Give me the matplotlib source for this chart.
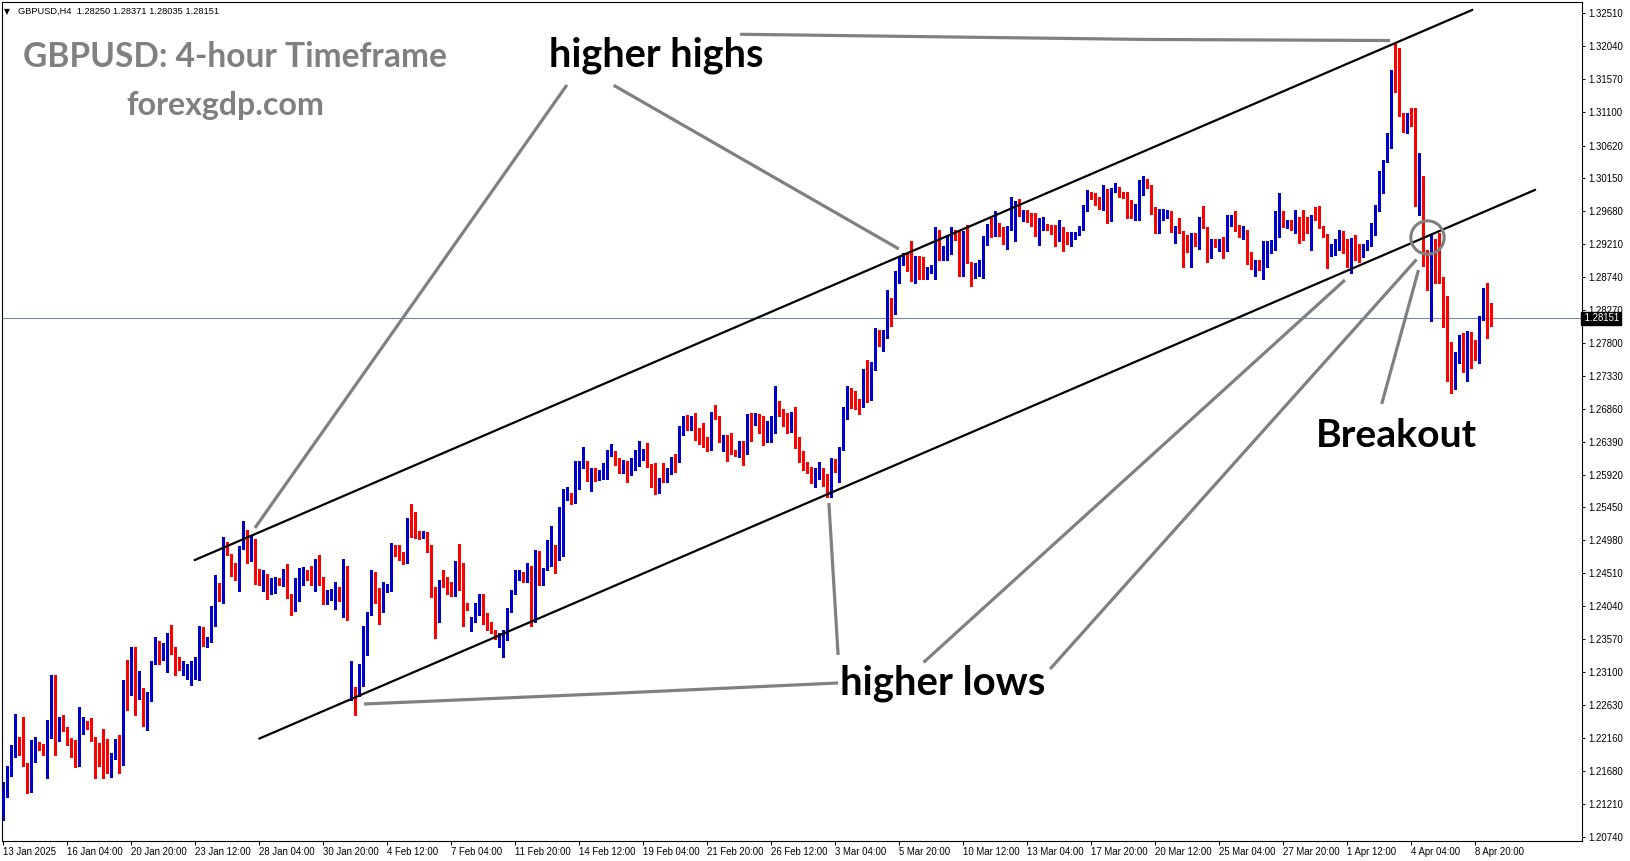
import matplotlib
matplotlib.use('Agg')
import matplotlib.pyplot as plt
from matplotlib.transforms import IdentityTransform, blended_transform_factory
import numpy as np

# GBPUSD H4 candles (13 Jan 2025 .. 9 Apr 2025)
opens = [
    1.2106, 1.2141, 1.2174, 1.2198, 1.2211, 1.2203, 1.2179, 1.2152, 1.2184, 1.2210,
    1.2200, 1.2200, 1.2218, 1.2299, 1.2213, 1.2234, 1.2229, 1.2209, 1.2197, 1.2196,
    1.2236, 1.2236, 1.2233, 1.2217, 1.2196, 1.2181, 1.2173, 1.2165, 1.2193, 1.2210,
    1.2177, 1.2299, 1.2282, 1.2320, 1.2274, 1.2276, 1.2247, 1.2278, 1.2324, 1.2348,
    1.2332, 1.2344, 1.2365, 1.2346, 1.2322, 1.2309, 1.2310, 1.2310, 1.2316, 1.2322,
    1.2373, 1.2353, 1.2354, 1.2400, 1.2429, 1.2413, 1.2489, 1.2478, 1.2450, 1.2446,
    1.2486, 1.2501, 1.2474, 1.2490, 1.2451, 1.2445, 1.2449, 1.2423, 1.2428, 1.2437,
    1.2435, 1.2456, 1.2421, 1.2398, 1.2442, 1.2443, 1.2450, 1.2449, 1.2444, 1.2467,
    1.2446, 1.2412, 1.2420, 1.2422, 1.2422, 1.2413, 1.2454, 1.2280, 1.2288, 1.2276,
    1.2292, 1.2365, 1.2393, 1.2451, 1.2422, 1.2397, 1.2426, 1.2428, 1.2483, 1.2479,
    1.2470, 1.2467, 1.2519, 1.2516, 1.2510, 1.2503, 1.2509, 1.2484, 1.2426, 1.2383,
    1.2443, 1.2433, 1.2431, 1.2420, 1.2461, 1.2431, 1.2403, 1.2369, 1.2383, 1.2400,
    1.2409, 1.2392, 1.2381, 1.2368, 1.2360, 1.2360, 1.2366, 1.2400, 1.2424, 1.2446,
    1.2452, 1.2445, 1.2447, 1.2388, 1.2479, 1.2443, 1.2456, 1.2490, 1.2491, 1.2470,
    1.2521, 1.2556, 1.2564, 1.2553, 1.2588, 1.2603, 1.2611, 1.2570, 1.2600, 1.2588,
    1.2593, 1.2594, 1.2621, 1.2624, 1.2608, 1.2598, 1.2609, 1.2591, 1.2601, 1.2612,
    1.2613, 1.2624, 1.2606, 1.2591, 1.2572, 1.2587, 1.2583, 1.2594, 1.2615, 1.2612,
    1.2650, 1.2669, 1.2656, 1.2661, 1.2651, 1.2647, 1.2645, 1.2627, 1.2678, 1.2676,
    1.2638, 1.2646, 1.2639, 1.2625, 1.2624, 1.2639, 1.2623, 1.2671, 1.2664, 1.2666,
    1.2666, 1.2639, 1.2653, 1.2653, 1.2685, 1.2672, 1.2665, 1.2654, 1.2680, 1.2633,
    1.2613, 1.2599, 1.2595, 1.2586, 1.2594, 1.2602, 1.2590, 1.2575, 1.2610, 1.2604,
    1.2629, 1.2679, 1.2715, 1.2702, 1.2698, 1.2696, 1.2726, 1.2721, 1.2743, 1.2796,
    1.2778, 1.2797, 1.2837, 1.2822, 1.2880, 1.2894, 1.2907, 1.2904, 1.2870, 1.2899,
    1.2889, 1.2872, 1.2884, 1.2885, 1.2940, 1.2903, 1.2908, 1.2922, 1.2938, 1.2920,
    1.2877, 1.2934, 1.2895, 1.2874, 1.2887, 1.2894, 1.2930, 1.2946, 1.2938, 1.2949,
    1.2938, 1.2925, 1.2943, 1.2943, 1.2974, 1.2957, 1.2968, 1.2964, 1.2949, 1.2934,
    1.2947, 1.2946, 1.2947, 1.2943, 1.2933, 1.2941, 1.2937, 1.2921, 1.2929, 1.2936,
    1.2942, 1.2971, 1.2993, 1.2990, 1.2984, 1.2977, 1.2999, 1.2970, 1.2998, 1.3003,
    1.2995, 1.2989, 1.2976, 1.2968, 1.2975, 1.2996, 1.3012, 1.3003, 1.2972, 1.2952,
    1.2966, 1.2965, 1.2966, 1.2939, 1.2942, 1.2939, 1.2921, 1.2897, 1.2936, 1.2918,
    1.2954, 1.2945, 1.2903, 1.2919, 1.2918, 1.2925, 1.2913, 1.2955, 1.2958, 1.2941,
    1.2933, 1.2936, 1.2908, 1.2893, 1.2897, 1.2888, 1.2889, 1.2922, 1.2923, 1.2945,
    1.2958, 1.2946, 1.2950, 1.2941, 1.2949, 1.2946, 1.2946, 1.2913, 1.2960, 1.2959,
    1.2946, 1.2934, 1.2907, 1.2913, 1.2926, 1.2939, 1.2927, 1.2890, 1.2927, 1.2921,
    1.2910, 1.2919, 1.2920, 1.2944, 1.2970, 1.2996, 1.3040, 1.3059, 1.3164, 1.3160,
    1.3106, 1.3100, 1.3103, 1.3100, 1.2984, 1.3003, 1.2895, 1.2812, 1.2908, 1.2902,
    1.2872, 1.2838, 1.2731, 1.2718, 1.2752, 1.2787, 1.2753, 1.2777, 1.2773, 1.2765,
    1.2814, 1.2856, 1.2825,
]
highs = [
    1.2153, 1.2175, 1.2205, 1.2250, 1.2217, 1.2246, 1.2180, 1.2213, 1.2217, 1.2210,
    1.2207, 1.2241, 1.2306, 1.2306, 1.2245, 1.2248, 1.2232, 1.2216, 1.2213, 1.2260,
    1.2245, 1.2240, 1.2244, 1.2217, 1.2208, 1.2229, 1.2214, 1.2194, 1.2214, 1.2220,
    1.2299, 1.2327, 1.2345, 1.2346, 1.2311, 1.2287, 1.2281, 1.2326, 1.2360, 1.2354,
    1.2351, 1.2366, 1.2377, 1.2346, 1.2332, 1.2325, 1.2322, 1.2325, 1.2331, 1.2376,
    1.2374, 1.2360, 1.2404, 1.2449, 1.2437, 1.2503, 1.2496, 1.2478, 1.2465, 1.2490,
    1.2525, 1.2513, 1.2504, 1.2500, 1.2457, 1.2456, 1.2450, 1.2444, 1.2446, 1.2444,
    1.2457, 1.2464, 1.2422, 1.2444, 1.2458, 1.2460, 1.2455, 1.2462, 1.2471, 1.2477,
    1.2446, 1.2427, 1.2428, 1.2439, 1.2431, 1.2472, 1.2462, 1.2325, 1.2288, 1.2322,
    1.2376, 1.2395, 1.2456, 1.2453, 1.2430, 1.2438, 1.2435, 1.2494, 1.2491, 1.2491,
    1.2482, 1.2530, 1.2550, 1.2538, 1.2512, 1.2511, 1.2510, 1.2491, 1.2432, 1.2442,
    1.2456, 1.2446, 1.2439, 1.2469, 1.2493, 1.2466, 1.2409, 1.2388, 1.2409, 1.2422,
    1.2422, 1.2394, 1.2381, 1.2370, 1.2365, 1.2370, 1.2401, 1.2427, 1.2455, 1.2456,
    1.2453, 1.2465, 1.2461, 1.2484, 1.2483, 1.2458, 1.2498, 1.2519, 1.2492, 1.2545,
    1.2571, 1.2574, 1.2565, 1.2611, 1.2611, 1.2632, 1.2611, 1.2601, 1.2601, 1.2598,
    1.2609, 1.2627, 1.2635, 1.2625, 1.2615, 1.2613, 1.2612, 1.2615, 1.2627, 1.2640,
    1.2628, 1.2637, 1.2607, 1.2608, 1.2587, 1.2608, 1.2601, 1.2617, 1.2622, 1.2661,
    1.2675, 1.2677, 1.2676, 1.2680, 1.2658, 1.2666, 1.2645, 1.2682, 1.2691, 1.2676,
    1.2649, 1.2649, 1.2651, 1.2627, 1.2640, 1.2640, 1.2678, 1.2680, 1.2680, 1.2678,
    1.2675, 1.2668, 1.2676, 1.2718, 1.2697, 1.2685, 1.2680, 1.2681, 1.2689, 1.2646,
    1.2625, 1.2610, 1.2603, 1.2601, 1.2610, 1.2602, 1.2593, 1.2615, 1.2614, 1.2632,
    1.2688, 1.2719, 1.2715, 1.2711, 1.2700, 1.2743, 1.2755, 1.2753, 1.2802, 1.2799,
    1.2799, 1.2856, 1.2844, 1.2883, 1.2904, 1.2909, 1.2909, 1.2926, 1.2904, 1.2904,
    1.2903, 1.2889, 1.2891, 1.2946, 1.2942, 1.2918, 1.2934, 1.2945, 1.2942, 1.2941,
    1.2940, 1.2948, 1.2896, 1.2894, 1.2899, 1.2933, 1.2950, 1.2958, 1.2968, 1.2952,
    1.2945, 1.2947, 1.2989, 1.2983, 1.2985, 1.2970, 1.2970, 1.2966, 1.2965, 1.2958,
    1.2960, 1.2950, 1.2949, 1.2949, 1.2956, 1.2946, 1.2939, 1.2939, 1.2938, 1.2947,
    1.2977, 1.2999, 1.2996, 1.2994, 1.2989, 1.3006, 1.3000, 1.3002, 1.3008, 1.3003,
    1.2996, 1.2996, 1.2984, 1.2979, 1.3013, 1.3018, 1.3014, 1.3006, 1.2974, 1.2971,
    1.2972, 1.2970, 1.2968, 1.2947, 1.2958, 1.2940, 1.2934, 1.2937, 1.2937, 1.2960,
    1.2976, 1.2946, 1.2928, 1.2929, 1.2929, 1.2931, 1.2963, 1.2963, 1.2968, 1.2949,
    1.2947, 1.2941, 1.2910, 1.2899, 1.2899, 1.2925, 1.2925, 1.2927, 1.2969, 1.2994,
    1.2968, 1.2956, 1.2956, 1.2970, 1.2960, 1.2970, 1.2960, 1.2963, 1.2974, 1.2975,
    1.2947, 1.2935, 1.2922, 1.2928, 1.2941, 1.2940, 1.2928, 1.2930, 1.2934, 1.2922,
    1.2922, 1.2927, 1.2952, 1.2977, 1.3025, 1.3042, 1.3080, 1.3170, 1.3208, 1.3201,
    1.3108, 1.3109, 1.3115, 1.3115, 1.3051, 1.3018, 1.2913, 1.2934, 1.2929, 1.2937,
    1.2874, 1.2847, 1.2781, 1.2767, 1.2792, 1.2794, 1.2797, 1.2795, 1.2784, 1.2818,
    1.2858, 1.2865, 1.2837,
]
lows = [
    1.2099, 1.2132, 1.2162, 1.2188, 1.2191, 1.2175, 1.2137, 1.2139, 1.2182, 1.2198,
    1.2192, 1.2159, 1.2215, 1.2191, 1.2211, 1.2226, 1.2206, 1.2188, 1.2174, 1.2176,
    1.2222, 1.2229, 1.2212, 1.2159, 1.2175, 1.2159, 1.2165, 1.2160, 1.2185, 1.2165,
    1.2177, 1.2255, 1.2277, 1.2248, 1.2272, 1.2233, 1.2227, 1.2269, 1.2322, 1.2322,
    1.2327, 1.2310, 1.2335, 1.2306, 1.2313, 1.2306, 1.2300, 1.2292, 1.2300, 1.2299,
    1.2347, 1.2346, 1.2353, 1.2376, 1.2411, 1.2409, 1.2477, 1.2447, 1.2442, 1.2425,
    1.2485, 1.2466, 1.2469, 1.2435, 1.2434, 1.2426, 1.2414, 1.2421, 1.2423, 1.2434,
    1.2433, 1.2416, 1.2392, 1.2397, 1.2412, 1.2434, 1.2442, 1.2434, 1.2425, 1.2434,
    1.2407, 1.2407, 1.2413, 1.2400, 1.2412, 1.2388, 1.2384, 1.2270, 1.2249, 1.2275,
    1.2290, 1.2334, 1.2392, 1.2409, 1.2379, 1.2396, 1.2424, 1.2426, 1.2475, 1.2470,
    1.2464, 1.2465, 1.2503, 1.2501, 1.2500, 1.2502, 1.2482, 1.2417, 1.2359, 1.2382,
    1.2432, 1.2422, 1.2418, 1.2419, 1.2427, 1.2375, 1.2399, 1.2368, 1.2382, 1.2392,
    1.2379, 1.2370, 1.2365, 1.2357, 1.2345, 1.2332, 1.2356, 1.2395, 1.2421, 1.2441,
    1.2438, 1.2439, 1.2375, 1.2382, 1.2434, 1.2434, 1.2455, 1.2461, 1.2452, 1.2470,
    1.2476, 1.2555, 1.2550, 1.2552, 1.2572, 1.2601, 1.2583, 1.2569, 1.2583, 1.2584,
    1.2585, 1.2585, 1.2619, 1.2606, 1.2594, 1.2594, 1.2582, 1.2591, 1.2598, 1.2604,
    1.2613, 1.2603, 1.2574, 1.2564, 1.2565, 1.2582, 1.2581, 1.2593, 1.2596, 1.2610,
    1.2649, 1.2655, 1.2655, 1.2641, 1.2636, 1.2632, 1.2625, 1.2627, 1.2671, 1.2638,
    1.2625, 1.2612, 1.2621, 1.2619, 1.2617, 1.2606, 1.2622, 1.2640, 1.2663, 1.2651,
    1.2634, 1.2638, 1.2639, 1.2652, 1.2675, 1.2662, 1.2651, 1.2653, 1.2630, 1.2610,
    1.2599, 1.2594, 1.2580, 1.2574, 1.2585, 1.2575, 1.2560, 1.2560, 1.2595, 1.2582,
    1.2627, 1.2671, 1.2687, 1.2686, 1.2679, 1.2689, 1.2696, 1.2699, 1.2741, 1.2776,
    1.2768, 1.2787, 1.2804, 1.2821, 1.2865, 1.2892, 1.2883, 1.2868, 1.2866, 1.2872,
    1.2872, 1.2871, 1.2880, 1.2872, 1.2899, 1.2899, 1.2899, 1.2907, 1.2927, 1.2876,
    1.2876, 1.2894, 1.2862, 1.2873, 1.2875, 1.2873, 1.2920, 1.2932, 1.2933, 1.2933,
    1.2921, 1.2914, 1.2941, 1.2925, 1.2961, 1.2954, 1.2953, 1.2947, 1.2933, 1.2920,
    1.2941, 1.2941, 1.2936, 1.2918, 1.2925, 1.2912, 1.2921, 1.2918, 1.2928, 1.2934,
    1.2941, 1.2968, 1.2985, 1.2977, 1.2971, 1.2970, 1.2952, 1.2954, 1.2996, 1.2989,
    1.2987, 1.2958, 1.2958, 1.2956, 1.2956, 1.2991, 1.3002, 1.2964, 1.2937, 1.2937,
    1.2956, 1.2958, 1.2939, 1.2923, 1.2937, 1.2888, 1.2910, 1.2888, 1.2918, 1.2914,
    1.2944, 1.2896, 1.2901, 1.2917, 1.2912, 1.2902, 1.2912, 1.2947, 1.2940, 1.2931,
    1.2928, 1.2893, 1.2885, 1.2875, 1.2884, 1.2872, 1.2888, 1.2908, 1.2913, 1.2932,
    1.2946, 1.2944, 1.2941, 1.2937, 1.2923, 1.2927, 1.2937, 1.2913, 1.2955, 1.2944,
    1.2932, 1.2887, 1.2904, 1.2906, 1.2913, 1.2909, 1.2889, 1.2880, 1.2899, 1.2896,
    1.2903, 1.2913, 1.2919, 1.2934, 1.2969, 1.2994, 1.3038, 1.3058, 1.3139, 1.3104,
    1.3082, 1.3080, 1.3090, 1.2976, 1.2963, 1.2890, 1.2855, 1.2812, 1.2865, 1.2865,
    1.2803, 1.2725, 1.2708, 1.2714, 1.2751, 1.2739, 1.2725, 1.2744, 1.2755, 1.2751,
    1.2813, 1.2787, 1.2804,
]
closes = [
    1.2141, 1.2174, 1.2203, 1.2211, 1.2202, 1.2177, 1.2152, 1.2185, 1.2216, 1.2199,
    1.2199, 1.2219, 1.2299, 1.2213, 1.2242, 1.2227, 1.2207, 1.2196, 1.2196, 1.2237,
    1.2237, 1.2231, 1.2216, 1.2195, 1.2181, 1.2172, 1.2169, 1.2193, 1.2210, 1.2177,
    1.2299, 1.2282, 1.2327, 1.2275, 1.2276, 1.2247, 1.2279, 1.2325, 1.2354, 1.2332,
    1.2344, 1.2365, 1.2345, 1.2321, 1.2314, 1.2310, 1.2311, 1.2317, 1.2324, 1.2373,
    1.2351, 1.2354, 1.2400, 1.2429, 1.2414, 1.2488, 1.2481, 1.2448, 1.2446, 1.2487,
    1.2502, 1.2475, 1.2500, 1.2450, 1.2445, 1.2449, 1.2424, 1.2429, 1.2443, 1.2435,
    1.2455, 1.2421, 1.2398, 1.2443, 1.2450, 1.2450, 1.2447, 1.2444, 1.2467, 1.2445,
    1.2416, 1.2419, 1.2422, 1.2423, 1.2413, 1.2454, 1.2386, 1.2289, 1.2276, 1.2293,
    1.2365, 1.2394, 1.2451, 1.2420, 1.2397, 1.2426, 1.2429, 1.2483, 1.2481, 1.2471,
    1.2467, 1.2519, 1.2514, 1.2509, 1.2502, 1.2509, 1.2483, 1.2425, 1.2383, 1.2441,
    1.2433, 1.2431, 1.2420, 1.2461, 1.2431, 1.2402, 1.2400, 1.2383, 1.2402, 1.2409,
    1.2391, 1.2381, 1.2367, 1.2360, 1.2362, 1.2366, 1.2400, 1.2426, 1.2447, 1.2452,
    1.2443, 1.2447, 1.2389, 1.2479, 1.2443, 1.2457, 1.2491, 1.2492, 1.2471, 1.2522,
    1.2568, 1.2564, 1.2553, 1.2589, 1.2604, 1.2611, 1.2584, 1.2600, 1.2590, 1.2591,
    1.2595, 1.2625, 1.2626, 1.2607, 1.2598, 1.2609, 1.2593, 1.2602, 1.2614, 1.2614,
    1.2626, 1.2605, 1.2590, 1.2575, 1.2586, 1.2583, 1.2594, 1.2615, 1.2613, 1.2653,
    1.2670, 1.2656, 1.2661, 1.2651, 1.2646, 1.2645, 1.2628, 1.2680, 1.2675, 1.2638,
    1.2645, 1.2638, 1.2624, 1.2624, 1.2639, 1.2623, 1.2671, 1.2664, 1.2668, 1.2661,
    1.2639, 1.2668, 1.2654, 1.2685, 1.2676, 1.2664, 1.2654, 1.2680, 1.2631, 1.2612,
    1.2600, 1.2595, 1.2586, 1.2595, 1.2603, 1.2585, 1.2575, 1.2610, 1.2604, 1.2630,
    1.2680, 1.2718, 1.2702, 1.2698, 1.2695, 1.2726, 1.2721, 1.2745, 1.2796, 1.2778,
    1.2797, 1.2838, 1.2823, 1.2882, 1.2897, 1.2907, 1.2904, 1.2870, 1.2898, 1.2888,
    1.2882, 1.2885, 1.2886, 1.2941, 1.2903, 1.2909, 1.2923, 1.2940, 1.2931, 1.2877,
    1.2937, 1.2895, 1.2880, 1.2888, 1.2895, 1.2931, 1.2946, 1.2938, 1.2952, 1.2937,
    1.2925, 1.2944, 1.2944, 1.2974, 1.2964, 1.2968, 1.2964, 1.2949, 1.2934, 1.2950,
    1.2951, 1.2943, 1.2941, 1.2933, 1.2943, 1.2926, 1.2926, 1.2931, 1.2937, 1.2944,
    1.2972, 1.2994, 1.2990, 1.2984, 1.2977, 1.2999, 1.2970, 1.2997, 1.3003, 1.2995,
    1.2989, 1.2975, 1.2966, 1.2976, 1.3005, 1.3012, 1.3003, 1.2972, 1.2952, 1.2968,
    1.2968, 1.2966, 1.2940, 1.2941, 1.2939, 1.2922, 1.2912, 1.2936, 1.2920, 1.2954,
    1.2945, 1.2904, 1.2924, 1.2918, 1.2926, 1.2913, 1.2956, 1.2958, 1.2941, 1.2934,
    1.2936, 1.2907, 1.2894, 1.2897, 1.2889, 1.2890, 1.2922, 1.2925, 1.2945, 1.2958,
    1.2949, 1.2950, 1.2942, 1.2947, 1.2945, 1.2944, 1.2941, 1.2961, 1.2956, 1.2945,
    1.2933, 1.2907, 1.2918, 1.2927, 1.2939, 1.2937, 1.2890, 1.2927, 1.2923, 1.2910,
    1.2919, 1.2921, 1.2944, 1.2971, 1.3011, 1.3041, 1.3060, 1.3164, 1.3160, 1.3106,
    1.3102, 1.3103, 1.3098, 1.2984, 1.3003, 1.2894, 1.2892, 1.2906, 1.2902, 1.2872,
    1.2838, 1.2731, 1.2724, 1.2752, 1.2787, 1.2753, 1.2777, 1.2774, 1.2765, 1.2815,
    1.2857, 1.2827, 1.2815,
]

date_labels = ["13 Jan 2025", "16 Jan 04:00", "20 Jan 20:00", "23 Jan 12:00", "28 Jan 04:00",
               "30 Jan 20:00", "4 Feb 12:00", "7 Feb 04:00", "11 Feb 20:00", "14 Feb 12:00",
               "19 Feb 04:00", "21 Feb 20:00", "26 Feb 12:00", "3 Mar 04:00", "5 Mar 20:00",
               "10 Mar 12:00", "13 Mar 04:00", "17 Mar 20:00", "20 Mar 12:00", "25 Mar 04:00",
               "27 Mar 20:00", "1 Apr 12:00", "4 Apr 04:00", "8 Apr 20:00"]
price_ticks = [1.20740, 1.21210, 1.21680, 1.22160, 1.22630, 1.23100, 1.23570, 1.24040,
               1.24510, 1.24980, 1.25450, 1.25920, 1.26390, 1.26860, 1.27330, 1.27800,
               1.28270, 1.28740, 1.29210, 1.29680, 1.30150, 1.30620, 1.31100, 1.31570,
               1.32040, 1.32510]
last_price = 1.28151

assert len(opens) == len(highs) == len(lows) == len(closes)

plt.rcParams['font.family'] = ['Liberation Sans', 'DejaVu Sans']

W, H = 1631, 861
fig = plt.figure(figsize=(W / 100, H / 100), dpi=100)
fig.patch.set_facecolor('white')
ax = fig.add_axes([2.5 / W, (H - 840.7) / H, (1582 - 2.5) / W, (840.7 - 2) / H])

o = np.array(opens)
hi = np.array(highs)
lo = np.array(lows)
c = np.array(closes)
x = np.arange(len(c))
up = c >= o
col = np.where(up, '#0000cd', '#ff0000')

# bid line behind the candles
ax.axhline(last_price, color='#778899', lw=0.8, zorder=1)

# wicks and bodies
ax.vlines(x, lo, hi, colors=col, lw=0.75, zorder=2, antialiased=False)
body_lo = np.minimum(o, c)
body_h = np.maximum(np.abs(c - o), 0.00015)
ax.bar(x, body_h, bottom=body_lo, width=0.8, color=col, linewidth=0, zorder=3,
       antialiased=False)

# channel lines
ax.plot([47.9, 367.2], [1.2470, 1.32557], color='black', lw=1.6, zorder=5)
ax.plot([64.05, 382.9], [1.2215, 1.29986], color='black', lw=1.6, zorder=5)

# grey pointer lines
grey = '#808080'
pointers = [
    ([184.2, 285.4, 346.7], [1.32210, 1.32136, 1.32121]),
    ([140.9, 62.9], [1.31486, 1.25157]),
    ([152.6, 223.9], [1.31481, 1.29143]),
    ([90.2, 151.7, 208.7], [1.22643, 1.22793, 1.22943]),
    ([208.7, 206.4], [1.23343, 1.25514]),
    ([230.05, 335.4], [1.23236, 1.28700]),
    ([261.7, 353.3], [1.23143, 1.28993]),
    ([344.6, 353.8], [1.26929, 1.28843]),
]
for px, py in pointers:
    ax.plot(px, py, color=grey, lw=2.3, solid_capstyle='butt', zorder=6)
ax.plot([356.05], [1.29319], 'o', ms=24, mfc='none', mec=grey, mew=2.2, zorder=6)

ax.set_xlim(-0.2, 394.675)
ax.set_ylim(1.2069, 1.32671)

ax.set_xticks(np.arange(len(date_labels)) * 16)
ax.set_xticklabels(date_labels, ha='left')
ax.yaxis.tick_right()
ax.set_yticks(price_ticks)
ax.set_yticklabels(['%.5f' % v for v in price_ticks])
ax.tick_params(axis='x', length=3, width=0.7, pad=1.5, labelsize=6.9, direction='out')
ax.tick_params(axis='y', length=2.5, width=0.7, pad=1.8, labelsize=6.9, direction='out')
for s in ax.spines.values():
    s.set_color('black')
    s.set_linewidth(0.8)

# current price tag on the right scale
tr = blended_transform_factory(ax.transAxes, ax.transData)
ax.text(1.0, last_price, ' %.5f' % last_price, transform=tr, ha='left', va='center',
        fontsize=6.9, color='white', clip_on=False, zorder=10,
        bbox=dict(boxstyle='square,pad=0.15', facecolor='black', edgecolor='black'))

renderer = fig.canvas.get_renderer()


def put(s, left, baseline, width, **kw):
    t = fig.text(left, H - baseline, s, transform=IdentityTransform(),
                 ha='left', va='baseline', **kw)
    w = t.get_window_extent(renderer).width
    t.set_fontsize(t.get_fontsize() * width / w)
    return t


put('GBPUSD: 4-hour Timeframe', 22.7, 66.7, 424, family='Lato', weight='bold',
    color='#808080', fontsize=24)
put('forexgdp.com', 126.7, 114.5, 198, family='Lato', weight='bold',
    color='#808080', fontsize=24)
put('higher highs', 549, 66.5, 215, family='Lato', weight='bold', color='black', fontsize=24)
put('higher lows', 840, 695, 205, family='Lato', weight='bold', color='black', fontsize=24)
put('Breakout', 1315.6, 447, 161, family='Lato', weight='bold', color='black', fontsize=24)

# terminal header
fig.text(4, H - 14, '\u25bc', transform=IdentityTransform(), ha='left', va='baseline',
         fontsize=5.5, family=['DejaVu Sans'])
put('GBPUSD,H4  1.28250 1.28371 1.28035 1.28151', 18, 14, 200, fontsize=7)

fig.savefig('out.png', dpi=100, facecolor='white')
